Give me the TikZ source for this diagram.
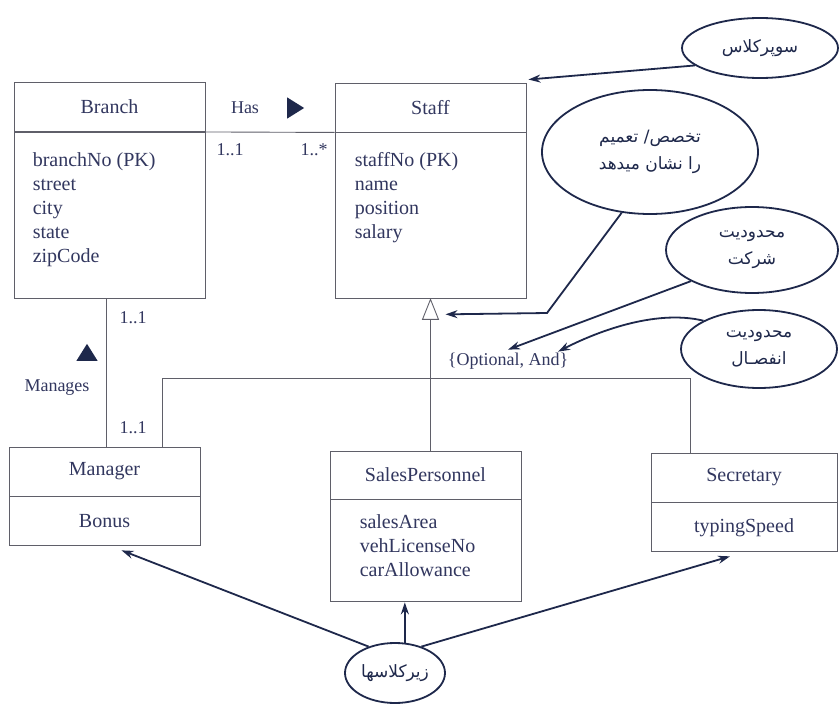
\documentclass[tikz,border=0pt]{standalone}
\usepackage{fontspec}
\setmainfont{Liberation Serif}
\newfontfamily\farsifont[Script=Arabic]{DejaVu Sans}
\TeXXeTstate=1
\usetikzlibrary{arrows.meta, shapes.geometric, positioning, calc}
\definecolor{boxgray}{RGB}{95, 95, 105}
\definecolor{txtnavy}{RGB}{50, 55, 95}
\definecolor{notenavy}{RGB}{30, 40, 75}
\tikzset{
  classbox/.style={
    draw=boxgray,
    line width=0.9pt,
    minimum width=191pt,
    inner sep=0pt,
    text=txtnavy,
    font=\fontsize{20}{24}\selectfont
  },
  attrtext/.style={
    align=left,
    inner sep=0pt,
    text=txtnavy,
    font=\fontsize{20}{24}\selectfont
  },
  multtext/.style={
    inner sep=0pt,
    text=txtnavy,
    font=\fontsize{18}{22}\selectfont
  },
  dirmark/.style={
    isosceles triangle,
    isosceles triangle apex angle=64,
    fill=notenavy,
    inner sep=0pt,
    minimum height=17pt
  },
  note/.style={
    ellipse,
    draw=notenavy,
    line width=1.8pt,
    fill=white,
    inner sep=0pt,
    align=center,
    text=notenavy,
    font=\farsifont\fontsize{17}{27}\selectfont
  },
  notearrow/.style={
    -{Stealth[length=12pt,width=8pt]},
    draw=notenavy,
    line width=1.8pt
  },
  assoc/.style={draw=boxgray, line width=0.9pt}
}

\begin{document}
\begin{tikzpicture}[x=1pt, y=-1pt]
  \useasboundingbox[fill=white] (0,0) rectangle (839,704);

  % classes
  \node[classbox, minimum height=49pt] (branchhead) at (109.5,107) {Branch};
  \node[classbox, minimum height=166pt, anchor=north] (branchbody) at (branchhead.south) {};
  \node[attrtext, anchor=north west] (branchattr) at ($(branchbody.north west)+(19,20)$)
    {branchNo (PK)\\street\\city\\state\\zipCode};

  \node[classbox, minimum height=49pt] (staffhead) at (430.5,107.5) {Staff};
  \node[classbox, minimum height=166pt, anchor=north] (staffbody) at (staffhead.south) {};
  \node[attrtext, anchor=north west] (staffattr) at ($(staffbody.north west)+(20,20)$)
    {staffNo (PK)\\name\\position\\salary};

  \node[classbox, minimum height=49pt] (managerhead) at (104.5,471.5) {Manager};
  \node[classbox, minimum height=49pt, anchor=north] (managerbody) at (managerhead.south) {Bonus};

  \node[classbox, minimum height=48pt] (saleshead) at (425.5,475) {SalesPersonnel};
  \node[classbox, minimum height=102pt, anchor=north] (salesbody) at (saleshead.south) {};
  \node[attrtext, anchor=north west] (salesattr) at ($(salesbody.north west)+(30,15)$)
    {salesArea\\vehLicenseNo\\carAllowance};

  \node[classbox, minimum width=186pt, minimum height=49pt] (sechead) at (744,477.5) {Secretary};
  \node[classbox, minimum width=186pt, minimum height=49pt, anchor=north] (secbody) at (sechead.south) {typingSpeed};

  % associations
  \draw[assoc] (branchhead.south east) -- (staffhead.south west);
  \node[multtext] (hastext) at (245,108) {Has};
  \node[dirmark] (hasdir) at (293,108) {};
  \node[multtext] (hasone) at (230,150) {1..1};
  \node[multtext] (hasmany) at (314,150) {1..*};

  \draw[assoc] (branchbody.south -| 106,0) -- (managerhead.north -| 106,0);
  \node[multtext] (mantop) at (133,318) {1..1};
  \node[dirmark, shape border rotate=90] (mandir) at (87,355) {};
  \node[multtext] (mantext) at (57,388) {Manages};
  \node[multtext] (manbottom) at (133,428) {1..1};

  % generalization
  \draw[assoc, fill=white] (staffbody.south) -- ++(-8,20) -- ++(16,0) -- cycle;
  \coordinate (genbase) at ($(staffbody.south)+(0,20)$);
  \coordinate (barl) at (162,378);
  \coordinate (barr) at (690,378);
  \draw[assoc] (genbase) -- (genbase |- saleshead.north);
  \draw[assoc] (barl |- managerhead.north) -- (barl) -- (barr) -- (barr |- sechead.north);
  \node[multtext] (opt) at (508,361) {\{Optional, And\}};

  % notes
  \node[note, minimum width=156pt, minimum height=60pt] (superN) at (760,48) {\beginR سوپرکلاس\endR};
  \node[note, minimum width=216pt, minimum height=124pt] (specN) at (650,152)
    {\beginR تخصص/ تعمیم\endR\\\beginR را نشان میدهد\endR};
  \node[note, minimum width=172pt, minimum height=86pt] (partN) at (752,250)
    {\beginR محدودیت\endR\\\beginR شرکت\endR};
  \node[note, minimum width=156pt, minimum height=78pt] (disjN) at (759,349)
    {\beginR محدودیت\endR\\\beginR انفصـال\endR};
  \node[note, minimum width=100pt, minimum height=60pt] (subN) at (395,673) {\beginR زیرکلاسها\endR};

  \coordinate (supertip) at ($(staffhead.north east)+(2,-3)$);
  \coordinate (spectip) at ($(genbase)+(15,-5)$);
  \coordinate (specbend) at (547,313);
  \coordinate (disjtip) at ($(opt.north)+(50,-1)$);
  \draw[notearrow] (superN.195) -- (supertip);
  \draw[notearrow] (specN.245) -- (specbend) -- (spectip);
  \draw[notearrow] (partN.207) -- ($(opt.north)+(0,-3)$);
  \draw[notearrow] (disjN.153) .. controls +(-50,-12) and +(35,-18) .. (disjtip);
  \draw[notearrow] (subN.135) -- ($(managerbody.south)+(17,4)$);
  \draw[notearrow] (subN.72) -- (subN.72 |- salesbody.south);
  \draw[notearrow] (subN.45) -- ($(secbody.south)+(-14,4)$);
\end{tikzpicture}
\end{document}
